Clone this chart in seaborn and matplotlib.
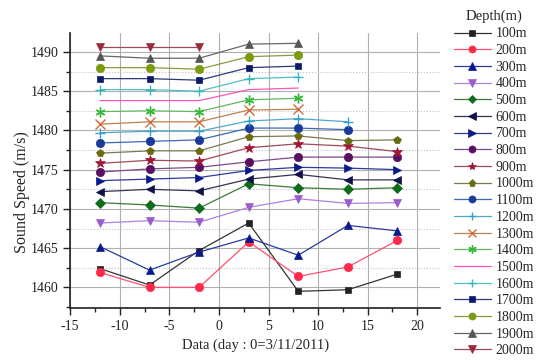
import matplotlib
matplotlib.use("Agg")
import matplotlib.pyplot as plt
from matplotlib.ticker import MultipleLocator
import seaborn as sns
import pandas as pd

days = [-12, -7, -2, 3, 8, 13, 18]

d100 = [1462.4, 1460.3, 1464.7, 1468.2, 1459.5, 1459.7, 1461.7]
d200 = [1461.9, 1460.0, 1460.0, 1465.8, 1461.4, 1462.6, 1466.0]
d300 = [1465.2, 1462.2, 1464.5, 1466.3, 1464.1, 1467.9, 1467.2]
d400 = [1468.2, 1468.5, 1468.3, 1470.2, 1471.3, 1470.7, 1470.8]
d500 = [1470.8, 1470.5, 1470.1, 1473.2, 1472.7, 1472.5, 1472.7]
d600 = [1472.2, 1472.5, 1472.3, 1473.8, 1474.4, 1473.7, 1473.7]
d700 = [1473.6, 1473.8, 1474.0, 1474.9, 1475.3, 1475.2, 1475.0]
d800 = [1474.7, 1475.1, 1475.3, 1476.0, 1476.6, 1476.6, 1476.6]
d900 = [1475.8, 1476.2, 1476.1, 1477.8, 1478.3, 1478.0, 1477.3]
d1000 = [1477.1, 1477.4, 1477.4, 1479.2, 1479.3, 1478.7, 1478.8]
d1100 = [1478.4, 1478.6, 1478.8, 1480.3, 1480.3, 1480.1]
d1200 = [1479.7, 1479.9, 1479.9, 1481.2, 1481.5, 1481.1]
d1300 = [1480.8, 1481.1, 1481.1, 1482.6, 1482.7]
d1400 = [1482.4, 1482.5, 1482.4, 1483.9, 1484.1]
d1500 = [1483.8, 1483.8, 1483.8, 1485.2, 1485.4]
d1600 = [1485.2, 1485.2, 1485.0, 1486.6, 1486.8]
d1700 = [1486.6, 1486.6, 1486.4, 1488.0, 1488.2]
d1800 = [1488.0, 1488.0, 1487.8, 1489.4, 1489.6]
d1900 = [1489.5, 1489.2, 1489.2, 1491.0, 1491.1]
d2000 = [1490.6, 1490.6, 1490.6]

labels = ["100m", "200m", "300m", "400m", "500m", "600m", "700m", "800m",
          "900m", "1000m", "1100m", "1200m", "1300m", "1400m", "1500m",
          "1600m", "1700m", "1800m", "1900m", "2000m"]
series = [d100, d200, d300, d400, d500, d600, d700, d800, d900, d1000,
          d1100, d1200, d1300, d1400, d1500, d1600, d1700, d1800, d1900, d2000]

colors = ["#222222", "#ff2a4a", "#0a1a8a", "#9a5ccc", "#0f6a1a", "#10104a",
          "#0a1a8a", "#5a1060", "#a01838", "#6a6a10", "#1a3a9a", "#3aa0c8",
          "#d06a3a", "#38b838", "#ff44aa", "#3ab8b8", "#0a1a6a", "#7a9a10",
          "#555555", "#9a2a3a"]
line_colors = ["#333333", "#ff5070", "#2a3aa0", "#b080e0", "#3a7a3a", "#333355",
               "#2a3aa0", "#7a4a8a", "#a04a5a", "#7a7a50", "#3a6ab0", "#50a8c8",
               "#c08050", "#60b860", "#ff55bb", "#50c0c0", "#2a3a7a", "#8a9a40",
               "#666666", "#9a4a5a"]
markers = ["s", "o", "^", "v", "D", "<", ">", "o", "*", "p", "o", "+",
           "x", (6, 2, 0), None, "+", "s", "o", "^", "v"]
msizes = [5, 6, 6, 6, 5, 6, 6, 6, 7, 6, 6, 7, 7, 7, 0, 7, 5, 6, 6, 6]

sns.set_style("ticks")
plt.rcParams["font.family"] = ["Liberation Serif", "DejaVu Serif"]
plt.rcParams["axes.unicode_minus"] = False

fig = plt.figure(figsize=(5.4, 3.6), dpi=100)
ax = fig.add_axes([0.13, 0.145, 0.685, 0.763])

for lab, vals, c, lc, m, ms in zip(labels, series, colors, line_colors, markers, msizes):
    df = pd.DataFrame({"day": days[:len(vals)], "speed": vals})
    kw = dict(marker=m, markersize=ms, markeredgecolor=c, markerfacecolor=c,
              markeredgewidth=1.0 if m in ("+", "x", (6, 2, 0)) else 0.5)
    if m is None:
        kw = dict(marker=None)
    sns.lineplot(data=df, x="day", y="speed", ax=ax, color=lc, linewidth=0.9,
                 label=lab, **kw)

ax.set_xlim(-15, 22.3)
ax.set_ylim(1457.4, 1492.4)
ax.xaxis.set_major_locator(MultipleLocator(5))
ax.xaxis.set_minor_locator(MultipleLocator(2.5))
ax.yaxis.set_major_locator(MultipleLocator(5))
ax.yaxis.set_minor_locator(MultipleLocator(2.5))
ax.tick_params(which="major", direction="out", length=5, width=1, labelsize=10, colors="#222222")
ax.tick_params(which="minor", direction="out", length=3, width=1)
ax.grid(which="major", color="#b0b0b0", linewidth=0.8)
ax.grid(which="minor", axis="y", color="#c0c0c8", linewidth=0.8, linestyle=":")
ax.set_axisbelow(True)
for s in ["top", "right"]:
    ax.spines[s].set_visible(False)
for s in ["left", "bottom"]:
    ax.spines[s].set_linewidth(1.2)
    ax.spines[s].set_color("#222222")

ax.set_xlabel("Data (day : 0=3/11/2011)", fontsize=10.5)
ax.set_ylabel("Sound Speed (m/s)", fontsize=11.5)
ax.yaxis.set_label_coords(-0.11, 0.42)

leg = ax.legend(loc="upper left", bbox_to_anchor=(0.822, 1.0), bbox_transform=fig.transFigure,
                frameon=False, title="Depth(m)", fontsize=10, title_fontsize=10.5,
                labelspacing=0.265, handlelength=2.7, handletextpad=0.3, borderpad=0.2,
                markerscale=0.85)
leg._legend_box.sep = 3

fig.savefig("out.png", dpi=100)
